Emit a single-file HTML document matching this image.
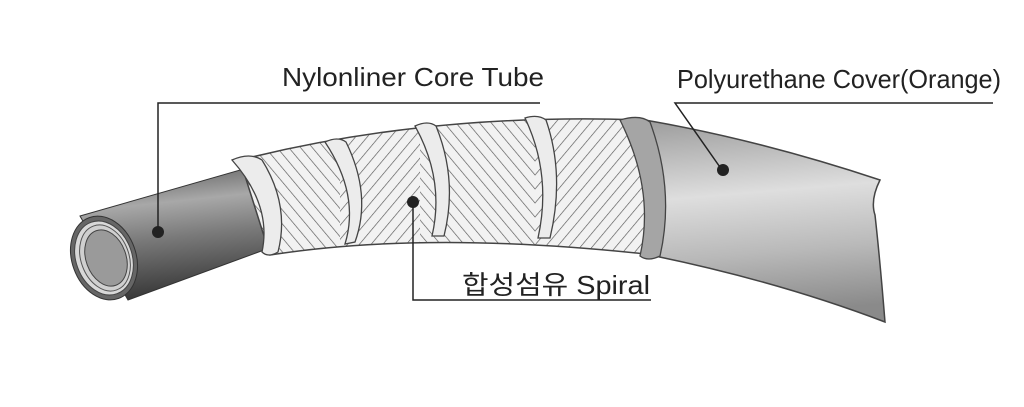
<!DOCTYPE html>
<html><head><meta charset="utf-8"><style>
html,body{margin:0;padding:0;background:#fff;}
svg{display:block}
text{font-family:"Liberation Sans","Noto Sans CJK KR",sans-serif;fill:#222;}
</style></head><body>
<svg width="1024" height="407" viewBox="0 0 1024 407" xmlns="http://www.w3.org/2000/svg">
<defs>
<linearGradient id="core" x1="0" y1="0" x2="0.15" y2="1">
<stop offset="0" stop-color="#4a4a4a"/><stop offset="0.35" stop-color="#a8a8a8"/><stop offset="0.6" stop-color="#7a7a7a"/><stop offset="1" stop-color="#3a3a3a"/>
</linearGradient>
<linearGradient id="cov" x1="0" y1="0" x2="0.1" y2="1">
<stop offset="0" stop-color="#9c9c9c"/><stop offset="0.4" stop-color="#dedede"/><stop offset="0.7" stop-color="#b9b9b9"/><stop offset="1" stop-color="#8a8a8a"/>
</linearGradient>
<pattern id="h1" width="9" height="9" patternUnits="userSpaceOnUse" patternTransform="rotate(40)">
<rect width="9" height="9" fill="#f2f2f2"/><line x1="0" y1="0" x2="0" y2="9" stroke="#555" stroke-width="1.3"/></pattern>
<pattern id="h2" width="9" height="9" patternUnits="userSpaceOnUse" patternTransform="rotate(-40)">
<rect width="9" height="9" fill="#f2f2f2"/><line x1="0" y1="0" x2="0" y2="9" stroke="#555" stroke-width="1.3"/></pattern>
<clipPath id="sp"><path d="M240,160 Q430,112 645,120 L655,255 Q430,230 270,255 Z"/></clipPath>
</defs>
<path d="M80,216 L268,162 L275,246 L128,300 Z" fill="url(#core)" stroke="#333"/>
<g clip-path="url(#sp)">
<rect x="230" y="100" width="110" height="170" fill="url(#h2)"/>
<rect x="340" y="100" width="80" height="170" fill="url(#h1)"/>
<rect x="420" y="100" width="115" height="170" fill="url(#h2)"/>
<rect x="535" y="100" width="120" height="170" fill="url(#h1)"/>
</g>
<path d="M240,160 Q430,112 645,120 L655,255 Q430,230 270,255 Z" fill="none" stroke="#444" stroke-width="1.5"/>
<g fill="#ececec" stroke="#444" stroke-width="1.3">
<path d="M232,160 Q250,152 262,160 Q290,205 278,252 Q268,258 262,252 Q272,205 232,160Z"/>
<path d="M325,142 Q338,136 346,142 Q372,195 355,242 L345,244 Q360,195 325,142Z"/>
<path d="M415,126 Q428,120 436,126 Q458,180 444,236 L432,236 Q445,180 415,126Z"/>
<path d="M525,118 Q538,114 546,120 Q565,175 550,238 L538,238 Q552,175 525,118Z"/>
</g>
<path d="M645,120 Q760,140 880,180 Q870,200 875,215 Q880,260 885,322 Q780,282 655,256 Z" fill="url(#cov)" stroke="#444" stroke-width="1.5"/>
<path d="M620,120 Q640,114 650,122 Q675,190 660,256 Q648,262 640,256 Q655,190 620,120Z" fill="#a5a5a5" stroke="#444" stroke-width="1.3"/>
<ellipse cx="104" cy="258" rx="32" ry="43" transform="rotate(-20 104 258)" fill="#666" stroke="#333"/>
<ellipse cx="104" cy="258" rx="28" ry="38" transform="rotate(-20 104 258)" fill="#d8d8d8" stroke="#444"/>
<ellipse cx="105" cy="258" rx="24" ry="34" transform="rotate(-20 105 258)" fill="#cfcfcf" stroke="#555"/>
<ellipse cx="106" cy="258" rx="20" ry="29" transform="rotate(-20 106 258)" fill="#9a9a9a" stroke="#444"/>
<g stroke="#222" stroke-width="1.5" fill="none">
<path d="M540,103 H158 V232"/>
<path d="M993,103 H675 L722,170"/>
<path d="M651,300 H413 V202"/>
</g>
<g fill="#222"><circle cx="158" cy="232" r="6"/><circle cx="723" cy="170" r="6"/><circle cx="413" cy="202" r="6"/></g>
<text x="282" y="86" font-size="26" textLength="262" lengthAdjust="spacingAndGlyphs">Nylonliner Core Tube</text>
<text x="677" y="88" font-size="26" textLength="324" lengthAdjust="spacingAndGlyphs">Polyurethane Cover(Orange)</text>
<text x="462" y="294" font-size="26" textLength="188" lengthAdjust="spacingAndGlyphs">합성섬유 Spiral</text>
</svg>
</body></html>
